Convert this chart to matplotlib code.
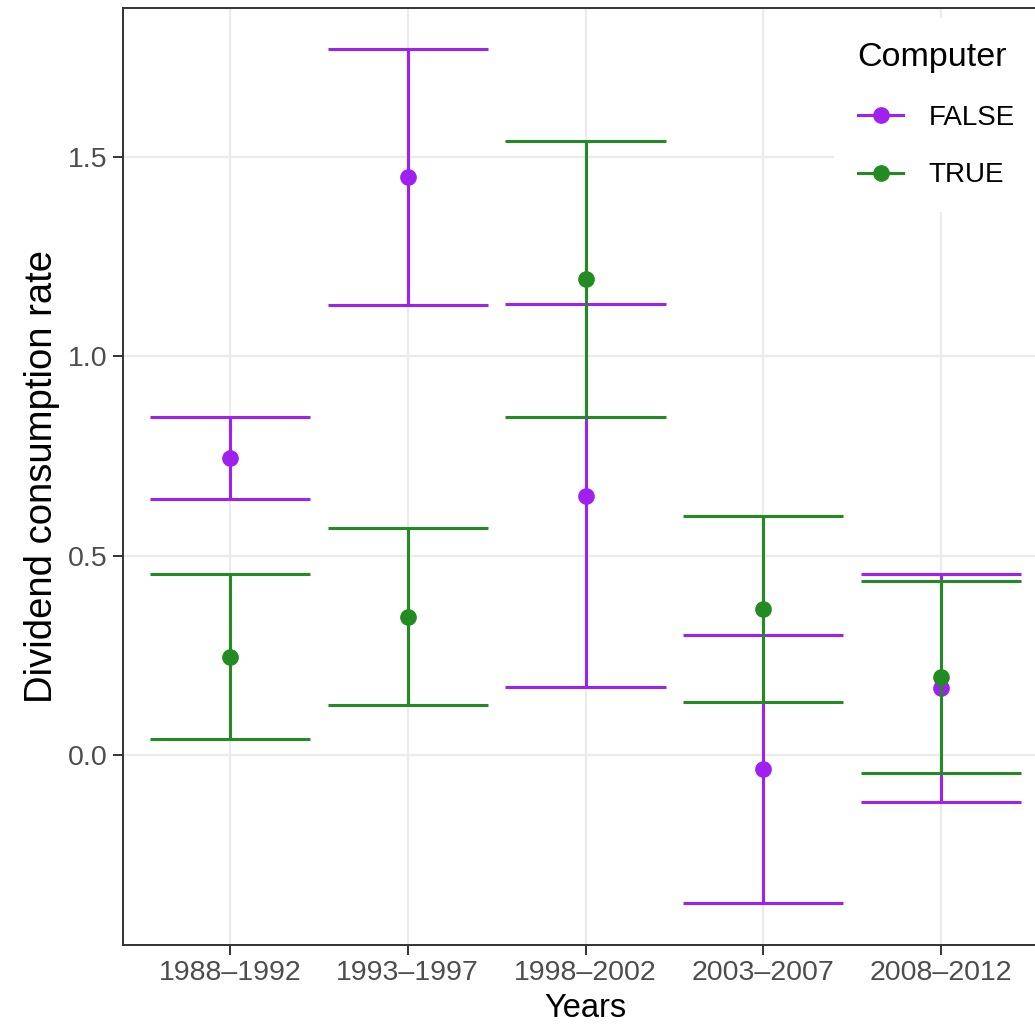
import numpy as np
from matplotlib import pyplot as plt
from matplotlib.lines import Line2D

plt.rcParams['font.family'] = ['Liberation Sans', 'DejaVu Sans']

periods = ['1988–1992', '1993–1997', '1998–2002', '2003–2007', '2008–2012']
false_mean = [0.745, 1.450, 0.650, -0.035, 0.168]
false_err = [0.102, 0.321, 0.480, 0.337, 0.285]
true_mean = [0.247, 0.347, 1.194, 0.366, 0.196]
true_err = [0.206, 0.222, 0.346, 0.233, 0.240]

purple = '#A020F0'
green = '#228B22'
dark = '#333333'

fig = plt.figure(figsize=(10.35, 10.29), dpi=100)
ax = fig.add_axes([123.2 / 1035, 1 - 945 / 1029, (1047.8 - 123.2) / 1035, 937 / 1029])

x = np.arange(len(periods))
lw = 2.2
cap = 0.45

# one group at a time: bars then dot, TRUE drawn over FALSE
for mean, err, col in [(false_mean, false_err, purple), (true_mean, true_err, green)]:
    mean = np.array(mean)
    err = np.array(err)
    ax.vlines(x, mean - err, mean + err, color=col, lw=lw, zorder=3)
    ax.hlines(mean - err, x - cap, x + cap, color=col, lw=lw, zorder=3)
    ax.hlines(mean + err, x - cap, x + cap, color=col, lw=lw, zorder=3)
    ax.plot(x, mean, 'o', color=col, ms=11, zorder=3)

ax.set_xlim(-0.6, 4.6)
ax.set_ylim(-0.4765, 1.8736)
ax.set_xticks(x)
ax.set_xticklabels(periods)
ax.set_yticks([0.0, 0.5, 1.0, 1.5])
ax.set_yticklabels(['0.0', '0.5', '1.0', '1.5'])

ax.grid(True, color='#EBEBEB', lw=1.6)
ax.set_axisbelow(True)
for s in ax.spines.values():
    s.set_color(dark)
    s.set_linewidth(1.4)
ax.tick_params(length=7, width=1.4, color=dark, labelcolor='#4D4D4D', labelsize=20.5, pad=4)

ax.set_xlabel('Years', fontsize=23.5, labelpad=5)
ax.set_ylabel('Dividend consumption rate', fontsize=27.5, labelpad=6)

handles = [Line2D([], [], color=purple, lw=lw, marker='o', ms=11),
           Line2D([], [], color=green, lw=lw, marker='o', ms=11)]
leg = ax.legend(handles, ['FALSE', 'TRUE'], title='Computer',
                loc='upper left', bbox_to_anchor=(834 / 1035, 1 - 18 / 1029),
                bbox_transform=fig.transFigure, fontsize=20, title_fontsize=24.5,
                frameon=True, facecolor='white', edgecolor='none', framealpha=1,
                fancybox=False, borderpad=0.85, borderaxespad=0, handlelength=1.65,
                handletextpad=0.9, labelspacing=1.15, alignment='left')

fig.savefig('out.png', dpi=100)
